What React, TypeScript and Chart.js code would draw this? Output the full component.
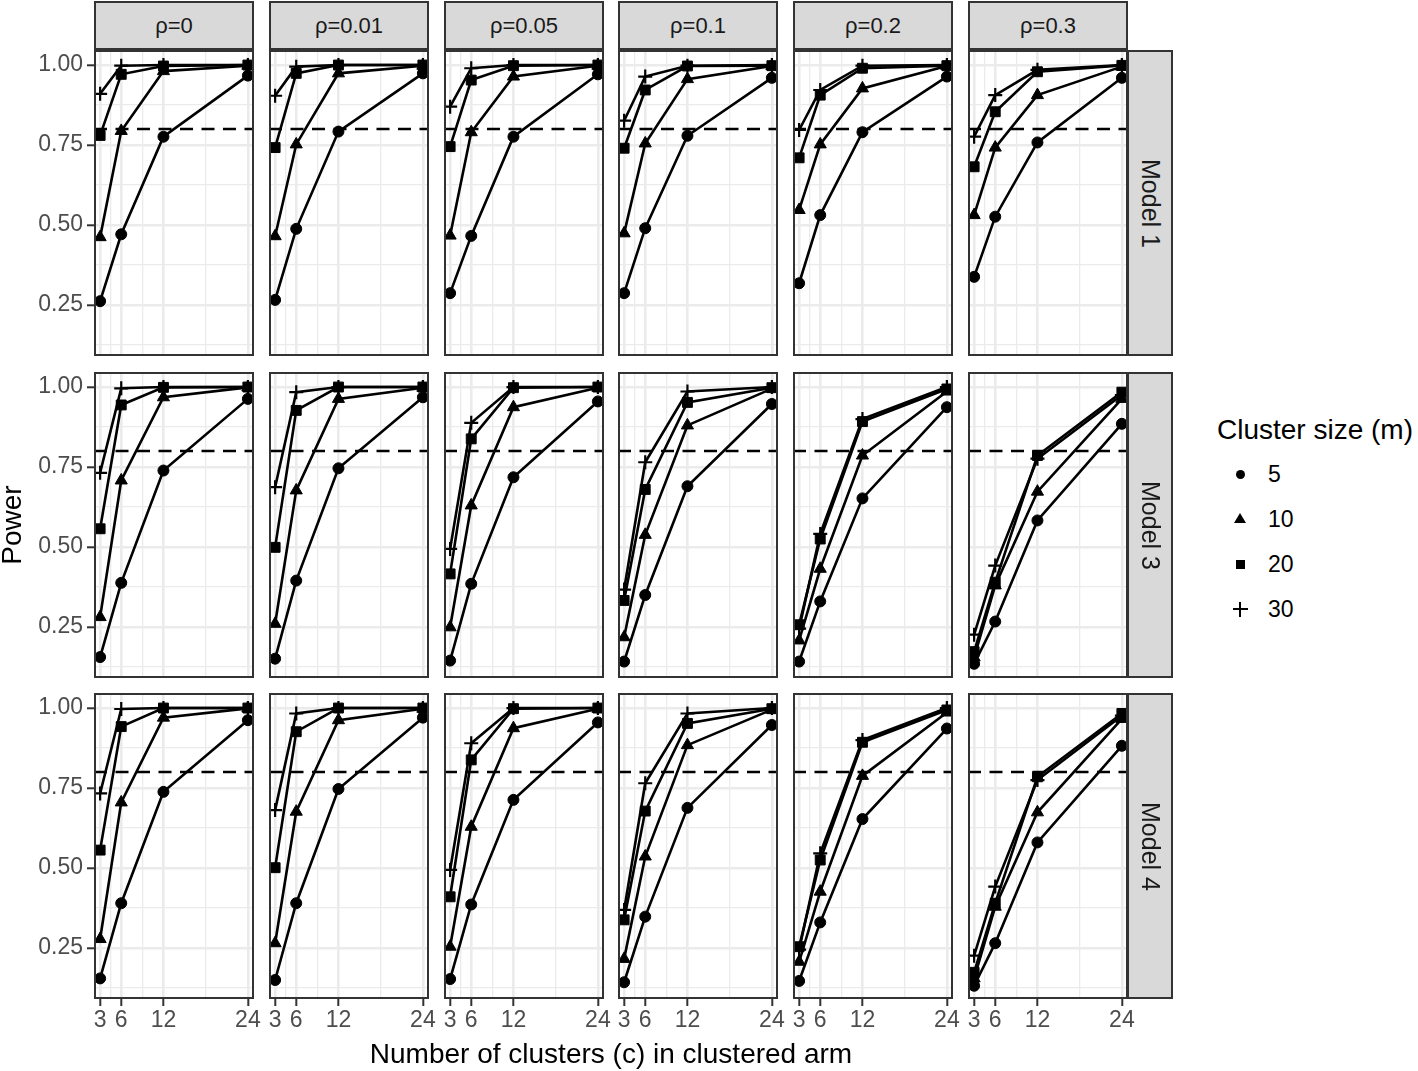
import React, { useEffect, useRef } from "react";
import { Chart, registerables } from "chart.js";

Chart.register(...registerables);

// ---------- data ----------
const clusters = [3, 6, 12, 24];
const rhoLabels = ["ρ=0", "ρ=0.01", "ρ=0.05", "ρ=0.1", "ρ=0.2", "ρ=0.3"];
const modelLabels = ["Model 1", "Model 3", "Model 4"];
const clusterSizes = ["5", "10", "20", "30"];
const xGridValues = [3, 4.5, 6, 9, 12, 18, 24];
const yGridValues = [0.125, 0.25, 0.375, 0.5, 0.625, 0.75, 0.875, 1.0];
const yTickValues = [0.25, 0.5, 0.75, 1.0];
const targetPower = 0.8;

// each array: one row per rho (ρ=0 .. ρ=0.3), values at c = 3, 6, 12, 24
const model1_m5 = [
  [0.262, 0.471, 0.776, 0.967],
  [0.266, 0.488, 0.792, 0.974],
  [0.287, 0.466, 0.776, 0.971],
  [0.287, 0.49, 0.779, 0.96],
  [0.318, 0.531, 0.79, 0.964],
  [0.338, 0.526, 0.758, 0.96],
];
const model1_m10 = [
  [0.462, 0.794, 0.981, 0.998],
  [0.465, 0.752, 0.974, 0.998],
  [0.467, 0.79, 0.964, 0.998],
  [0.474, 0.755, 0.956, 0.997],
  [0.547, 0.752, 0.927, 0.997],
  [0.531, 0.742, 0.906, 0.995],
];
const model1_m20 = [
  [0.78, 0.971, 0.997, 1.0],
  [0.742, 0.974, 1.0, 1.0],
  [0.745, 0.953, 0.998, 1.0],
  [0.74, 0.922, 0.997, 0.998],
  [0.71, 0.906, 0.99, 0.998],
  [0.682, 0.854, 0.979, 0.999],
];
const model1_m30 = [
  [0.91, 0.998, 1.0, 1.0],
  [0.904, 0.995, 1.0, 1.0],
  [0.87, 0.99, 1.0, 1.0],
  [0.826, 0.964, 0.998, 1.0],
  [0.797, 0.922, 0.998, 1.0],
  [0.776, 0.906, 0.985, 1.0],
];

const model3_m5 = [
  [0.156, 0.388, 0.739, 0.963],
  [0.151, 0.395, 0.746, 0.968],
  [0.145, 0.385, 0.718, 0.955],
  [0.142, 0.35, 0.69, 0.947],
  [0.142, 0.33, 0.652, 0.937],
  [0.135, 0.267, 0.583, 0.885],
];
const model3_m10 = [
  [0.281, 0.708, 0.968, 0.999],
  [0.26, 0.677, 0.963, 0.998],
  [0.249, 0.63, 0.937, 0.998],
  [0.218, 0.538, 0.88, 0.995],
  [0.208, 0.432, 0.786, 0.986],
  [0.155, 0.38, 0.673, 0.963],
];
const model3_m20 = [
  [0.557, 0.944, 0.999, 1.0],
  [0.499, 0.927, 1.0, 1.0],
  [0.416, 0.838, 0.998, 1.0],
  [0.333, 0.68, 0.952, 0.998],
  [0.257, 0.525, 0.892, 0.994],
  [0.173, 0.39, 0.786, 0.984],
];
const model3_m30 = [
  [0.732, 0.996, 1.0, 1.0],
  [0.687, 0.984, 1.0, 1.0],
  [0.494, 0.888, 1.0, 1.0],
  [0.367, 0.765, 0.986, 1.0],
  [0.245, 0.541, 0.9, 1.0],
  [0.226, 0.442, 0.776, 0.975],
];

const model4_m5 = [
  [0.155, 0.39, 0.738, 0.962],
  [0.15, 0.39, 0.747, 0.97],
  [0.153, 0.386, 0.713, 0.955],
  [0.143, 0.348, 0.688, 0.947],
  [0.147, 0.33, 0.653, 0.936],
  [0.132, 0.265, 0.58, 0.882],
];
const model4_m10 = [
  [0.278, 0.705, 0.97, 0.999],
  [0.265, 0.676, 0.962, 0.998],
  [0.254, 0.629, 0.937, 0.998],
  [0.216, 0.536, 0.884, 0.995],
  [0.207, 0.426, 0.788, 0.986],
  [0.155, 0.379, 0.674, 0.966],
];
const model4_m20 = [
  [0.556, 0.942, 1.0, 1.0],
  [0.501, 0.926, 1.0, 1.0],
  [0.41, 0.838, 0.998, 1.0],
  [0.338, 0.678, 0.952, 0.998],
  [0.254, 0.525, 0.893, 0.994],
  [0.174, 0.39, 0.785, 0.983],
];
const model4_m30 = [
  [0.733, 0.997, 1.0, 1.0],
  [0.681, 0.983, 1.0, 1.0],
  [0.494, 0.89, 1.0, 1.0],
  [0.369, 0.765, 0.983, 1.0],
  [0.245, 0.546, 0.9, 1.0],
  [0.226, 0.442, 0.775, 0.976],
];

const modelSeries = [
  [model1_m5, model1_m10, model1_m20, model1_m30],
  [model3_m5, model3_m10, model3_m20, model3_m30],
  [model4_m5, model4_m10, model4_m20, model4_m30],
];

// ---------- layout / style ----------
const FONT = "'Liberation Sans', Arial, Helvetica, sans-serif";
const X_MIN = 2.13;
const X_MAX = 24.87;
const Y_MIN = 0.0906;
const Y_MAX = 1.047;
const colLeft = [94, 269, 444, 618, 793, 968];
const rowTop = [50, 372, 693];
const PANEL_W = 160;
const PANEL_H = 306;
const X_AXIS_H = 70;
const pointStyles = ["circle", "triangle", "rect", "cross"];
const pointRadii = [5.5, 7, 7, 7];
const pointBorderWidths = [1, 1, 1, 2.2];

const panelBorder = {
  id: "panelBorder",
  afterDraw(chart: any) {
    const { ctx, chartArea } = chart;
    const { left, top, right, bottom } = chartArea;
    ctx.save();
    ctx.strokeStyle = "#333333";
    ctx.lineWidth = 2;
    ctx.strokeRect(left + 1, top + 1, right - left - 2, bottom - top - 2);
    ctx.restore();
  },
};

function Panel({ row, col }: { row: number; col: number }) {
  const ref = useRef<HTMLCanvasElement>(null);
  const showY = col === 0;
  const showX = row === modelLabels.length - 1;
  const yAxisW = showY ? colLeft[0] : 0;
  const xAxisH = showX ? X_AXIS_H : 0;
  const padLeft = showX && !showY ? 10 : 0;
  const padRight = showX ? 16 : 0;
  const width = PANEL_W + yAxisW + padLeft + padRight;
  const height = PANEL_H + xAxisH;
  const left = showY ? 0 : colLeft[col] - padLeft;

  useEffect(() => {
    const series = modelSeries[row];
    const datasets: any[] = clusterSizes.map((m, k) => ({
      label: m,
      data: clusters.map((c, i) => ({ x: c, y: series[k][col][i] })),
      borderColor: "#000000",
      backgroundColor: "#000000",
      borderWidth: 2.6,
      pointStyle: pointStyles[k],
      pointRadius: pointRadii[k],
      pointBorderWidth: pointBorderWidths[k],
      pointBackgroundColor: "#000000",
      pointBorderColor: "#000000",
      tension: 0,
    }));
    datasets.push({
      label: "target",
      data: [
        { x: X_MIN, y: targetPower },
        { x: X_MAX, y: targetPower },
      ],
      borderColor: "#000000",
      borderWidth: 2.6,
      borderDash: [13, 8.5],
      pointRadius: 0,
      tension: 0,
    });

    const chart = new Chart(ref.current as HTMLCanvasElement, {
      type: "line",
      data: { datasets },
      plugins: [panelBorder],
      options: {
        animation: false,
        responsive: false,
        devicePixelRatio: 1,
        layout: {
          autoPadding: false,
          padding: { left: padLeft, right: padRight, top: 0, bottom: 0 },
        },
        plugins: {
          legend: { display: false },
          tooltip: { enabled: false },
          title: { display: false },
        },
        events: [],
        scales: {
          x: {
            type: "linear",
            min: X_MIN,
            max: X_MAX,
            afterBuildTicks: (s: any) => {
              s.ticks = xGridValues.map((v) => ({ value: v }));
            },
            afterFit: (s: any) => {
              s.height = xAxisH;
              s.paddingLeft = 0;
              s.paddingRight = 0;
            },
            ticks: {
              display: showX,
              autoSkip: false,
              maxRotation: 0,
              minRotation: 0,
              padding: 1,
              color: "#4D4D4D",
              font: { family: FONT, size: 23 },
              callback: (v: any) => (clusters.includes(Number(v)) ? String(v) : ""),
            },
            grid: {
              color: "#EBEBEB",
              lineWidth: (ctx: any) => (clusters.includes(ctx.tick?.value) ? 2.6 : 1.3),
              drawTicks: showX,
              tickLength: 7,
              tickWidth: 2,
              tickColor: (ctx: any) =>
                clusters.includes(ctx.tick?.value) ? "#333333" : "rgba(0,0,0,0)",
            },
            border: { display: false },
          },
          y: {
            type: "linear",
            min: Y_MIN,
            max: Y_MAX,
            afterBuildTicks: (s: any) => {
              s.ticks = yGridValues.map((v) => ({ value: v }));
            },
            afterFit: (s: any) => {
              s.width = yAxisW;
              s.paddingTop = 0;
              s.paddingBottom = 0;
            },
            ticks: {
              display: showY,
              autoSkip: false,
              padding: 4,
              color: "#4D4D4D",
              font: { family: FONT, size: 23 },
              callback: (v: any) =>
                yTickValues.includes(Number(v)) ? Number(v).toFixed(2) : "",
            },
            grid: {
              color: "#EBEBEB",
              lineWidth: (ctx: any) => (yTickValues.includes(ctx.tick?.value) ? 2.6 : 1.3),
              drawTicks: showY,
              tickLength: 7,
              tickWidth: 2,
              tickColor: (ctx: any) =>
                yTickValues.includes(ctx.tick?.value) ? "#333333" : "rgba(0,0,0,0)",
            },
            border: { display: false },
          },
        },
      } as any,
    });
    return () => chart.destroy();
  }, []);

  return (
    <canvas
      ref={ref}
      width={width}
      height={height}
      style={{ position: "absolute", left, top: rowTop[row], width, height }}
    />
  );
}

function LegendSymbol({ k }: { k: number }) {
  const base: React.CSSProperties = { position: "absolute" };
  if (k === 0)
    return <div style={{ ...base, left: -4.5, top: -4.5, width: 9, height: 9, borderRadius: "50%", background: "#000" }} />;
  if (k === 1)
    return (
      <div
        style={{
          ...base,
          left: -6,
          top: -6,
          width: 0,
          height: 0,
          borderLeft: "6px solid transparent",
          borderRight: "6px solid transparent",
          borderBottom: "10px solid #000",
        }}
      />
    );
  if (k === 2)
    return <div style={{ ...base, left: -4.5, top: -4.5, width: 9, height: 9, background: "#000" }} />;
  return (
    <>
      <div style={{ ...base, left: -7.5, top: -1, width: 15, height: 2, background: "#000" }} />
      <div style={{ ...base, left: -1, top: -7.5, width: 2, height: 15, background: "#000" }} />
    </>
  );
}

export default function App() {
  const legendY = [474, 519, 564, 609];
  return (
    <div
      style={{
        position: "absolute",
        left: 0,
        top: 0,
        width: 1418,
        height: 1071,
        background: "#ffffff",
        fontFamily: FONT,
        overflow: "hidden",
      }}
    >
      {modelLabels.map((_, r) =>
        rhoLabels.map((__, c) => <Panel key={`${r}-${c}`} row={r} col={c} />)
      )}

      {rhoLabels.map((lab, c) => (
        <div
          key={lab}
          style={{
            position: "absolute",
            left: colLeft[c],
            top: 1,
            width: PANEL_W,
            height: 49,
            boxSizing: "border-box",
            border: "2px solid #333333",
            background: "#D9D9D9",
            color: "#1A1A1A",
            fontSize: 22,
            display: "flex",
            alignItems: "center",
            justifyContent: "center",
          }}
        >
          {lab}
        </div>
      ))}

      {modelLabels.map((lab, r) => (
        <div
          key={lab}
          style={{
            position: "absolute",
            left: colLeft[5] + PANEL_W - 1,
            top: rowTop[r],
            width: 46,
            height: PANEL_H,
            boxSizing: "border-box",
            border: "2px solid #333333",
            background: "#D9D9D9",
            color: "#1A1A1A",
            fontSize: 25,
            display: "flex",
            alignItems: "center",
            justifyContent: "center",
          }}
        >
          <span style={{ transform: "rotate(90deg)", whiteSpace: "nowrap", display: "inline-block" }}>{lab}</span>
        </div>
      ))}

      <div
        style={{
          position: "absolute",
          left: -88,
          top: 505,
          width: 200,
          height: 40,
          lineHeight: "40px",
          textAlign: "center",
          fontSize: 28,
          color: "#000",
          transform: "rotate(-90deg)",
        }}
      >
        Power
      </div>

      <div
        style={{
          position: "absolute",
          left: 211,
          top: 1034,
          width: 800,
          height: 40,
          lineHeight: "40px",
          textAlign: "center",
          fontSize: 28,
          color: "#000",
          whiteSpace: "nowrap",
        }}
      >
        Number of clusters (c) in clustered arm
      </div>

      <div
        style={{
          position: "absolute",
          left: 1217,
          top: 410,
          height: 40,
          lineHeight: "40px",
          fontSize: 28,
          color: "#000",
          whiteSpace: "nowrap",
        }}
      >
        Cluster size (m)
      </div>
      {clusterSizes.map((m, k) => (
        <React.Fragment key={m}>
          <div style={{ position: "absolute", left: 1240, top: legendY[k], width: 0, height: 0 }}>
            <LegendSymbol k={k} />
          </div>
          <div
            style={{
              position: "absolute",
              left: 1268,
              top: legendY[k] - 15,
              height: 30,
              lineHeight: "30px",
              fontSize: 23,
              color: "#000",
            }}
          >
            {m}
          </div>
        </React.Fragment>
      ))}
    </div>
  );
}
